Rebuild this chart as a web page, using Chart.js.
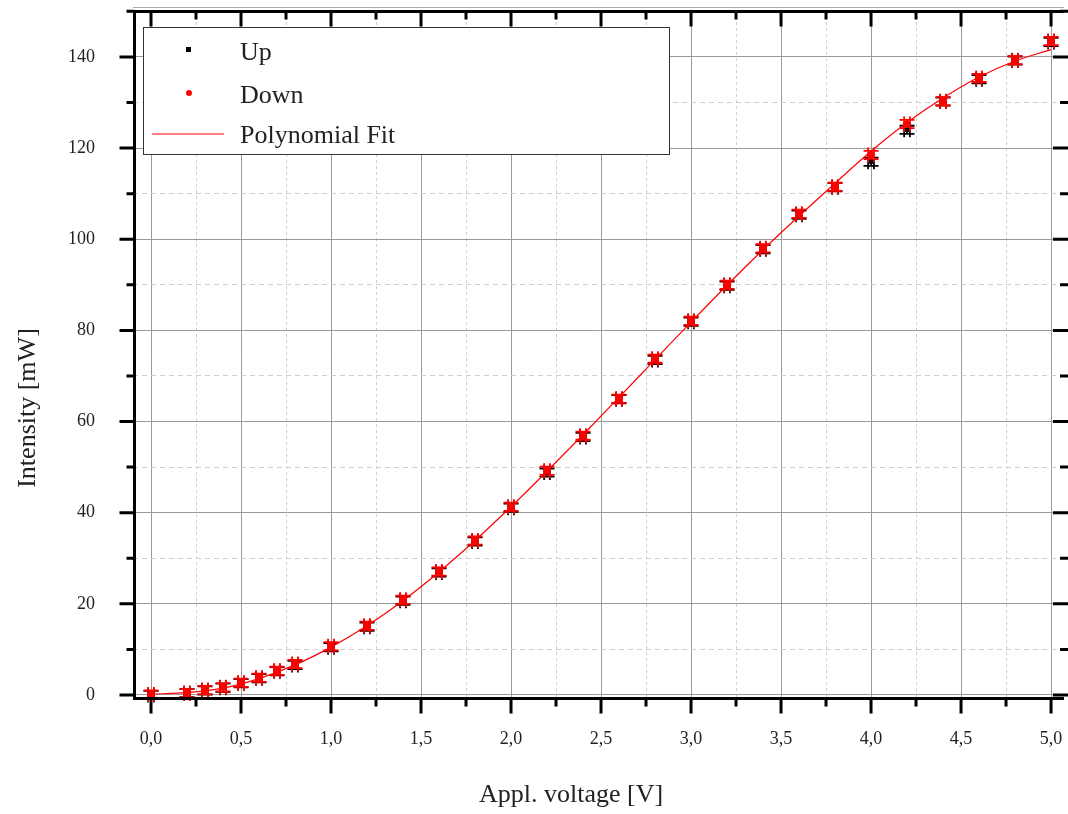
<!DOCTYPE html>
<html>
<head>
<meta charset="utf-8">
<title>Intensity vs applied voltage</title>
<script src="https://cdn.jsdelivr.net/npm/chart.js"></script>
<style>body{margin:0;background:#fff}</style>
</head>
<body>
<canvas id="chart" width="1068" height="814"></canvas>
<script>
// measured points (V, mW)
const voltage = [0, 0.2, 0.3, 0.4, 0.5, 0.6, 0.7, 0.8, 1.0, 1.2, 1.4, 1.6, 1.8, 2.0, 2.2, 2.4, 2.6, 2.8, 3.0, 3.2, 3.4, 3.6, 3.8, 4.0, 4.2, 4.4, 4.6, 4.8, 5.0];
const intensityUp = [0.0, 0.4, 1.0, 1.6, 2.6, 3.7, 5.2, 6.6, 10.5, 15.0, 20.7, 26.9, 33.7, 41.1, 48.8, 56.6, 64.9, 73.5, 81.9, 89.8, 97.8, 105.4, 111.4, 117.0, 124.0, 130.2, 135.1, 139.2, 143.3];
const intensityDown = [0.1, 0.4, 1.1, 1.7, 2.7, 3.8, 5.3, 6.8, 10.7, 15.2, 20.9, 27.1, 33.9, 41.3, 49.2, 56.9, 65.0, 73.8, 82.1, 90.0, 98.0, 105.6, 111.5, 118.5, 125.3, 130.3, 135.4, 139.3, 143.5];
const voltErr = 0.016;
const intensErr = 0.9;

// polynomial fit
const fitVoltage = [0, 0.2, 0.4, 0.6, 0.8, 1.0, 1.2, 1.4, 1.6, 1.8, 2.0, 2.2, 2.4, 2.6, 2.8, 3.0, 3.2, 3.4, 3.6, 3.8, 4.0, 4.2, 4.4, 4.6, 4.8, 5.0];
const fitIntensity = [0.2, 0.5, 1.5, 3.6, 6.6, 10.5, 15.2, 20.7, 27.0, 33.9, 41.3, 49.1, 57.1, 65.3, 73.6, 81.8, 89.9, 97.7, 105.1, 112.3, 119.3, 125.6, 131.0, 135.6, 139.1, 141.6];

const xTickValues = [0, 0.5, 1, 1.5, 2, 2.5, 3, 3.5, 4, 4.5, 5];
const xTickLabels = ['0,0', '0,5', '1,0', '1,5', '2,0', '2,5', '3,0', '3,5', '4,0', '4,5', '5,0'];
const yTickValues = [0, 20, 40, 60, 80, 100, 120, 140];
const yTickLabels = ['0', '20', '40', '60', '80', '100', '120', '140'];

const serif = '"Liberation Serif", "DejaVu Serif", serif';
const xMinor = xTickValues.slice(0, -1).map(v => v + 0.25);
const yMinor = yTickValues.map(v => v + 10);
const isMajorX = v => xTickValues.some(t => Math.abs(t - v) < 1e-6);
const isMajorY = v => yTickValues.some(t => Math.abs(t - v) < 1e-6);

const pts = ys => voltage.map((v, i) => ({x: v, y: ys[i]}));

const decor = {
  id: 'decor',
  beforeDatasetsDraw(chart) {
    const {ctx, scales: {x, y}} = chart;
    ctx.save();
    chart.data.datasets.forEach(ds => {
      if (!ds.errX) return;
      ctx.strokeStyle = ds.borderColor;
      ctx.lineWidth = 1.8;
      const cap = 7.5;
      ds.data.forEach(p => {
        const px = x.getPixelForValue(p.x), py = y.getPixelForValue(p.y);
        const x0 = x.getPixelForValue(p.x - ds.errX), x1 = x.getPixelForValue(p.x + ds.errX);
        const y0 = y.getPixelForValue(p.y - ds.errY), y1 = y.getPixelForValue(p.y + ds.errY);
        ctx.beginPath();
        ctx.moveTo(x0, py); ctx.lineTo(x1, py);
        ctx.moveTo(px, y0); ctx.lineTo(px, y1);
        ctx.moveTo(x0, py - cap); ctx.lineTo(x0, py + cap);
        ctx.moveTo(x1, py - cap); ctx.lineTo(x1, py + cap);
        ctx.moveTo(px - cap, y0); ctx.lineTo(px + cap, y0);
        ctx.moveTo(px - cap, y1); ctx.lineTo(px + cap, y1);
        ctx.stroke();
      });
    });
    ctx.restore();
  },
  afterDraw(chart) {
    const {ctx, chartArea: a, scales: {x, y}} = chart;
    ctx.save();
    // frame
    ctx.strokeStyle = '#aaa';
    ctx.lineWidth = 1;
    ctx.beginPath(); ctx.moveTo(a.left, a.top - 2.5); ctx.lineTo(a.right, a.top - 2.5); ctx.stroke();
    ctx.strokeStyle = '#000';
    ctx.lineWidth = 3;
    ctx.beginPath();
    ctx.moveTo(a.left + 1.5, a.top); ctx.lineTo(a.left + 1.5, a.bottom + 1.5);
    ctx.lineTo(a.right, a.bottom + 1.5);
    ctx.moveTo(a.left, a.top + 1.5); ctx.lineTo(a.right, a.top + 1.5);
    ctx.stroke();
    // ticks
    ctx.beginPath();
    xTickValues.concat(xMinor).forEach(v => {
      const px = x.getPixelForValue(v), len = isMajorX(v) ? 15 : 8;
      ctx.moveTo(px, a.bottom + 1.5); ctx.lineTo(px, a.bottom + 1.5 + len);
      ctx.moveTo(px, a.top + 1.5); ctx.lineTo(px, a.top + 1.5 + len);
    });
    yTickValues.concat(yMinor).forEach(v => {
      const py = y.getPixelForValue(v), len = isMajorY(v) ? 15 : 8;
      ctx.moveTo(a.left + 1.5, py); ctx.lineTo(a.left + 1.5 - len, py);
      ctx.moveTo(a.right + 4, py); ctx.lineTo(a.right + 4 - len, py);
    });
    ctx.stroke();

    // axis titles
    ctx.fillStyle = '#222';
    ctx.font = '26px ' + serif;
    ctx.textAlign = 'center';
    ctx.textBaseline = 'middle';
    ctx.fillText('Appl. voltage [V]', 571, 795);
    ctx.save();
    ctx.translate(28, 408);
    ctx.rotate(-Math.PI / 2);
    ctx.fillText('Intensity [mW]', 0, 0);
    ctx.restore();

    // legend
    ctx.fillStyle = '#fff';
    ctx.fillRect(143.5, 27.5, 526, 127);
    ctx.strokeStyle = '#333';
    ctx.lineWidth = 1;
    ctx.strokeRect(143.5, 27.5, 526, 127);
    const rows = [53, 96, 136];
    chart.data.datasets.forEach((ds, i) => {
      const ry = rows[i];
      if (ds.showLine) {
        ctx.strokeStyle = ds.borderColor;
        ctx.lineWidth = 1.2;
        ctx.beginPath(); ctx.moveTo(152, ry - 2); ctx.lineTo(224, ry - 2); ctx.stroke();
      } else if (ds.pointStyle === 'rect') {
        ctx.fillStyle = ds.backgroundColor;
        ctx.fillRect(186, ry - 6, 5, 5);
      } else {
        ctx.fillStyle = ds.backgroundColor;
        ctx.beginPath(); ctx.arc(189, ry - 3, 3, 0, Math.PI * 2); ctx.fill();
      }
      ctx.fillStyle = '#222';
      ctx.font = '26px ' + serif;
      ctx.textAlign = 'left';
      ctx.fillText(ds.label, 240, ry);
    });
    ctx.restore();
  }
};

new Chart(document.getElementById('chart'), {
  type: 'scatter',
  data: {
    datasets: [{
      label: 'Up',
      data: pts(intensityUp),
      errX: voltErr, errY: intensErr,
      pointStyle: 'rect',
      pointRadius: 3,
      backgroundColor: '#000',
      borderColor: '#000',
      borderWidth: 0,
      order: 2
    }, {
      label: 'Down',
      data: pts(intensityDown),
      errX: voltErr, errY: intensErr,
      pointStyle: 'circle',
      pointRadius: 3.5,
      backgroundColor: '#ff0000',
      borderColor: '#ff0000',
      borderWidth: 0,
      order: 1
    }, {
      label: 'Polynomial Fit',
      data: fitVoltage.map((v, i) => ({x: v, y: fitIntensity[i]})),
      showLine: true,
      cubicInterpolationMode: 'monotone',
      pointRadius: 0,
      borderColor: '#ff0000',
      borderWidth: 1.2,
      order: 0
    }]
  },
  options: {
    responsive: false,
    animation: false,
    layout: {padding: {top: 10, left: 0, right: 0, bottom: 0}},
    plugins: {legend: {display: false}, tooltip: {enabled: false}},
    scales: {
      x: {
        type: 'linear',
        min: -0.1,
        max: 5.072,
        afterBuildTicks: s => { s.ticks = xTickValues.concat(xMinor).sort((p, q) => p - q).map(v => ({value: v})); },
        afterFit: s => { s.height = 117; s.paddingLeft = 0; s.paddingRight = 0; },
        border: {display: false, dash: c => (c.tick && !isMajorX(c.tick.value)) ? [3, 3] : []},
        grid: {
          drawTicks: false,
          lineWidth: 1,
          color: c => (c.tick && isMajorX(c.tick.value)) ? '#9a9a9a' : '#cfcfcf'
        },
        ticks: {
          autoSkip: false,
          maxRotation: 0,
          padding: 31,
          color: '#222',
          font: {family: serif, size: 18},
          callback: v => { const i = xTickValues.findIndex(t => Math.abs(t - v) < 1e-6); return i < 0 ? '' : xTickLabels[i]; }
        }
      },
      y: {
        min: -0.44,
        max: 150.3,
        afterBuildTicks: s => { s.ticks = yTickValues.concat(yMinor).sort((p, q) => p - q).map(v => ({value: v})); },
        afterFit: s => { s.width = 133; s.paddingTop = 0; s.paddingBottom = 0; },
        border: {display: false, dash: c => (c.tick && !isMajorY(c.tick.value)) ? [5, 4] : []},
        grid: {
          drawTicks: false,
          lineWidth: 1,
          color: c => (c.tick && isMajorY(c.tick.value)) ? '#9a9a9a' : '#cfcfcf'
        },
        ticks: {
          autoSkip: false,
          padding: 38,
          color: '#222',
          font: {family: serif, size: 18},
          callback: v => { const i = yTickValues.findIndex(t => Math.abs(t - v) < 1e-6); return i < 0 ? '' : yTickLabels[i]; }
        }
      }
    }
  },
  plugins: [decor]
});
</script>
</body>
</html>
